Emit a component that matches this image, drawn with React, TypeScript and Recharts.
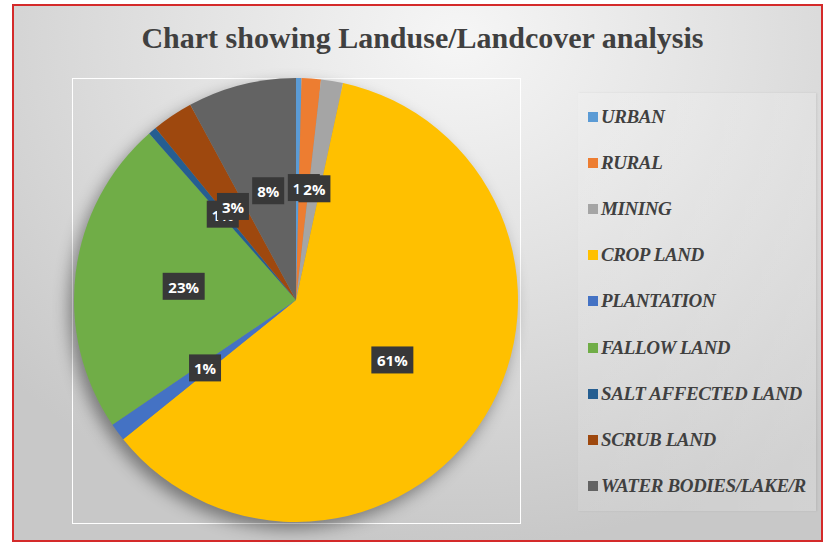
import React from 'react';
import { PieChart, Pie, Cell, Legend } from 'recharts';

const categories = ['URBAN', 'RURAL', 'MINING', 'CROP LAND', 'PLANTATION', 'FALLOW LAND', 'SALT AFFECTED LAND', 'SCRUB LAND', 'WATER BODIES/LAKE/R'];
const shares = [0.4, 1.4, 1.6, 60.8, 1.3, 23.0, 0.6, 3.0, 7.9];
const colors = ['#5B9BD5', '#ED7D31', '#A5A5A5', '#FFC000', '#4472C4', '#70AD47', '#255E91', '#9E480E', '#636363'];
const title = 'Chart showing Landuse/Landcover analysis';

const data = categories.map((name, i) => ({ name, value: shares[i] }));

const RAD = Math.PI / 180;

const renderLabel = (props: any) => {
  const { cx, cy, midAngle, outerRadius, percent } = props;
  const pct = Math.round(percent * 100);
  if (pct === 0) return null;
  const r = outerRadius * 0.51;
  const x = cx + r * Math.cos(-midAngle * RAD);
  const y = cy + r * Math.sin(-midAngle * RAD);
  const text = pct + '%';
  const w = text.length * 10 + 12;
  return (
    <g>
      <rect x={x - w / 2} y={y - 13} width={w} height={27} fill="#383838" />
      <text x={x} y={y + 1} fill="#ffffff" fontWeight="bold" fontSize={15} fontFamily="'Open Sans', sans-serif" textAnchor="middle" dominantBaseline="central">
        {text}
      </text>
    </g>
  );
};

const LegendContent = () => (
  <div style={{ width: 238, height: 418, background: 'linear-gradient(90deg, rgba(255,255,255,0.10), rgba(255,255,255,0.18))', boxShadow: '1px 0 2px rgba(0,0,0,0.08)', boxSizing: 'border-box', paddingTop: 1 }}>
    {categories.map((c, i) => (
      <div key={c} style={{ height: 46.1, display: 'flex', alignItems: 'center', marginLeft: 10 }}>
        <span style={{ width: 10, height: 10, background: colors[i], marginRight: 3, flex: 'none' }} />
        <span style={{ fontFamily: "'Liberation Serif', serif", fontStyle: 'italic', fontWeight: 'bold', fontSize: 19, color: '#404040', whiteSpace: 'nowrap', letterSpacing: -0.4 }}>{c}</span>
      </div>
    ))}
  </div>
);

export default function App() {
  return (
    <div style={{ position: 'absolute', left: 0, top: 0, width: 823, height: 546, overflow: 'hidden', background: '#ffffff' }}>
      <style>{`.recharts-pie { filter: drop-shadow(-5px 7px 8px rgba(0,0,0,0.4)); }`}</style>
      <div style={{ position: 'absolute', left: 12, top: 4, width: 811, height: 538, boxSizing: 'border-box', border: '2px solid #d42a2a', background: 'radial-gradient(ellipse 75% 95% at 55% 6%, #f6f6f6 0%, #e2e2e2 45%, #c8c8c8 100%)' }} />
      <div style={{ position: 'absolute', left: 72, top: 78, width: 449, height: 446, boxSizing: 'border-box', border: '1.5px solid #ffffff' }} />
      <div style={{ position: 'absolute', left: 0, top: 21, width: 845, textAlign: 'center', fontFamily: "'Liberation Serif', serif", fontWeight: 'bold', fontSize: 30, color: '#404040' }}>
        {title}
      </div>
      <div style={{ position: 'absolute', left: 0, top: 0 }}>
        <PieChart width={823} height={546} margin={{ top: 0, right: 0, bottom: 0, left: 0 }}>
          <Pie
            data={data}
            dataKey="value"
            nameKey="name"
            cx={296}
            cy={300}
            outerRadius={222}
            startAngle={90}
            endAngle={-270}
            stroke="none"
            label={renderLabel}
            labelLine={false}
            isAnimationActive={false}
          >
            {data.map((d, i) => (
              <Cell key={d.name} fill={colors[i]} />
            ))}
          </Pie>
          <Legend
            layout="vertical"
            align="right"
            verticalAlign="top"
            content={() => <LegendContent />}
            wrapperStyle={{ position: 'absolute', left: 578, top: 93, width: 238 }}
          />
        </PieChart>
      </div>
    </div>
  );
}
